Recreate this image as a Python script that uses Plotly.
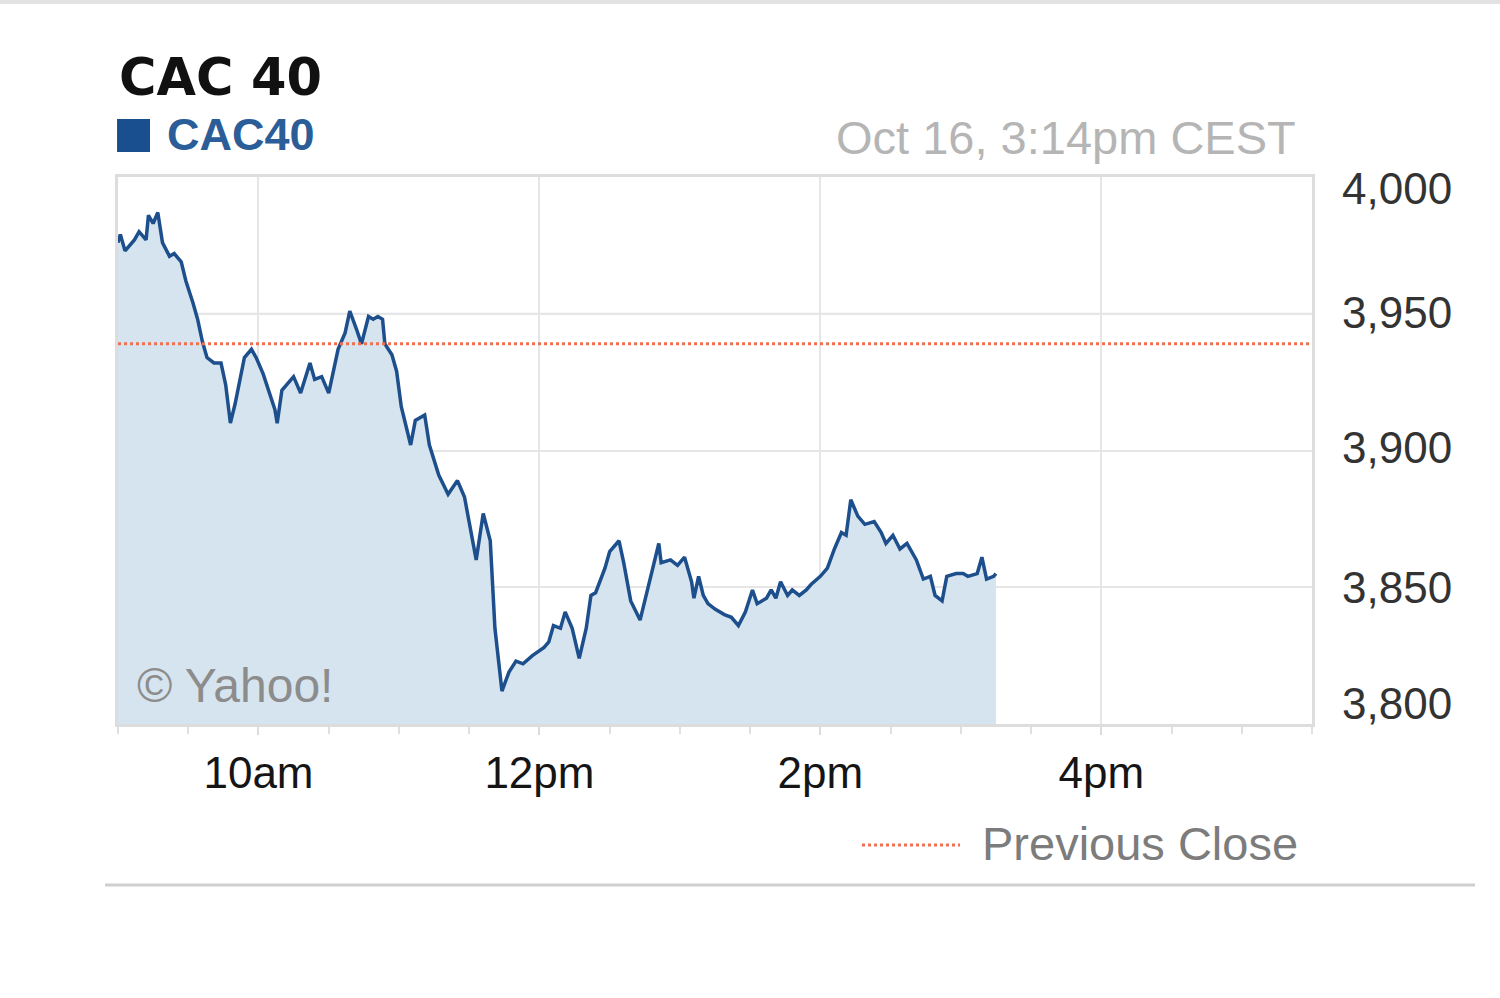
import plotly.graph_objects as go

DAY = "2013-10-16 "

times = ["09:00", "09:01", "09:03", "09:07", "09:09", "09:12", "09:13", "09:15", "09:17", "09:19",
         "09:22", "09:24", "09:27", "09:29", "09:32", "09:34", "09:36", "09:38", "09:41", "09:44",
         "09:46", "09:48", "09:50", "09:52", "09:54", "09:57", "09:59", "10:02", "10:04", "10:07",
         "10:08", "10:10", "10:12", "10:15", "10:18", "10:20", "10:22", "10:24", "10:27", "10:30",
         "10:32", "10:34", "10:37", "10:39", "10:42", "10:44", "10:47", "10:49", "10:51", "10:53",
         "10:54", "10:57", "10:59", "11:01", "11:05", "11:07", "11:11", "11:13", "11:17", "11:21",
         "11:25", "11:28", "11:33", "11:36", "11:39", "11:40", "11:41", "11:44", "11:47", "11:50",
         "11:53", "11:57", "12:02", "12:04", "12:06", "12:09", "12:11", "12:14", "12:17", "12:20",
         "12:22", "12:24", "12:28", "12:30", "12:34", "12:36", "12:39", "12:43", "12:47", "12:51",
         "12:52", "12:56", "12:59", "13:02", "13:05", "13:06", "13:08", "13:10", "13:12", "13:15",
         "13:19", "13:22", "13:25", "13:28", "13:31", "13:33", "13:37", "13:39", "13:41", "13:43",
         "13:46", "13:48", "13:51", "13:54", "13:56", "14:00", "14:03", "14:06", "14:09", "14:11",
         "14:13", "14:16", "14:19", "14:23", "14:26", "14:28", "14:31", "14:34", "14:37", "14:41",
         "14:44", "14:47", "14:49", "14:52", "14:54", "14:58", "15:01", "15:03", "15:07", "15:09",
         "15:11", "15:14", "15:15"]

cac40 = [3976, 3979, 3973, 3977, 3980, 3977, 3986, 3983, 3987, 3976,
         3971, 3972, 3969, 3962, 3954, 3948, 3940, 3934, 3932, 3932,
         3924, 3910, 3917, 3926, 3934, 3937, 3934, 3928, 3923, 3915,
         3910, 3922, 3924, 3927, 3921, 3927, 3932, 3926, 3927, 3921,
         3929, 3937, 3943, 3951, 3944, 3939, 3949, 3948, 3949, 3948,
         3939, 3935, 3929, 3916, 3902, 3911, 3913, 3902, 3891, 3884,
         3889, 3883, 3860, 3877, 3867, 3852, 3835, 3812, 3819, 3823,
         3822, 3825, 3828, 3830, 3836, 3835, 3841, 3835, 3824, 3835,
         3847, 3848, 3857, 3863, 3867, 3859, 3845, 3838, 3852, 3866,
         3859, 3860, 3858, 3861, 3852, 3846, 3854, 3847, 3844, 3842,
         3840, 3839, 3836, 3841, 3849, 3844, 3846, 3849, 3846, 3852,
         3847, 3849, 3847, 3849, 3851, 3854, 3857, 3864, 3870, 3869,
         3882, 3876, 3873, 3874, 3870, 3866, 3869, 3864, 3866, 3860,
         3853, 3854, 3847, 3845, 3854, 3855, 3855, 3854, 3855, 3861,
         3853, 3854, 3855]

previous_close = 3939
session_start, session_end = "09:00", "17:30"

x_tick_times = ["10:00", "12:00", "14:00", "16:00"]
x_tick_labels = ["10am", "12pm", "2pm", "4pm"]
y_tick_values = [4000, 3950, 3900, 3850, 3800]
y_tick_labels = ["4,000", "3,950", "3,900", "3,850", "3,800"]
y_label_shift = [-11, 1, 3, 0, 21]

FONT = "Liberation Sans, Arial, Helvetica, sans-serif"
TITLE_FONT = "DejaVu Sans, Liberation Sans, sans-serif"
LINE_BLUE = "#1d4f8c"
FILL_BLUE = "#d6e4f0"
GRID = "#e6e6e6"

fig = go.Figure()

fig.add_trace(go.Scatter(
    x=[DAY + t for t in times], y=cac40, mode="lines",
    line=dict(color=LINE_BLUE, width=3.5),
    fill="tozeroy", fillcolor=FILL_BLUE, showlegend=False, hoverinfo="skip"))

fig.add_trace(go.Scatter(
    x=[DAY + session_start, DAY + session_end], y=[previous_close, previous_close],
    mode="lines", line=dict(color="#f07050", width=3, dash="dot"),
    showlegend=False, hoverinfo="skip"))

fig.update_xaxes(
    type="date",
    range=[DAY + session_start, DAY + session_end],
    tickvals=[DAY + t for t in x_tick_times], ticktext=x_tick_labels,
    showgrid=True, gridcolor=GRID, gridwidth=2,
    ticks="outside", ticklen=8, tickwidth=2, tickcolor="#dcdcdc",
    minor=dict(dtick=30 * 60 * 1000, ticks="outside", ticklen=7, tickwidth=2,
               tickcolor="#e0e0e0", showgrid=False),
    tickfont=dict(family=FONT, size=44, color="#151515"),
    ticklabelstandoff=0,
    showline=True, linecolor="#dddddd", linewidth=3, mirror=True,
    zeroline=False, fixedrange=True)

fig.update_yaxes(
    range=[3800, 4000], side="right",
    tickvals=y_tick_values, showticklabels=False,
    showgrid=True, gridcolor=GRID, gridwidth=2,
    showline=True, linecolor="#dddddd", linewidth=3, mirror=True,
    zeroline=False, fixedrange=True)

annotations = []
for v, lab, sh in zip(y_tick_values, y_tick_labels, y_label_shift):
    annotations.append(dict(x=1.0235, xref="paper", y=v, yref="y", yshift=sh,
                            text=lab, showarrow=False, xanchor="left", yanchor="middle",
                            font=dict(family=FONT, size=44, color="#333333")))

annotations += [
    dict(x=-0.001, y=1.1828, xref="paper", yref="paper", text="<b>CAC 40</b>", showarrow=False,
         xanchor="left", yanchor="middle", font=dict(family=TITLE_FONT, size=51, color="#111111")),
    dict(x=0.0394, y=1.0768, xref="paper", yref="paper", text="<b>CAC40</b>", showarrow=False,
         xanchor="left", yanchor="middle", font=dict(family=FONT, size=45, color="#2b5e98")),
    dict(x=0.9883, y=1.0731, xref="paper", yref="paper", text="Oct 16, 3:14pm CEST",
         showarrow=False, xanchor="right", yanchor="middle",
         font=dict(family=FONT, size=47, color="#b5b5b5")),
    dict(x=0.0142, y=0.0695, xref="paper", yref="paper", text="© Yahoo!", showarrow=False,
         xanchor="left", yanchor="middle", font=dict(family=FONT, size=48, color="#8c8c8c")),
    dict(x=0.7219, y=-0.2176, xref="paper", yref="paper", text="Previous Close", showarrow=False,
         xanchor="left", yanchor="middle", font=dict(family=FONT, size=47, color="#7c7c7c")),
]

shapes = [
    # 3,950 bluish guide line
    dict(type="line", xref="paper", x0=0, x1=1, yref="y", y0=3950, y1=3950,
         line=dict(color="#d9e6f4", width=2), layer="below"),
    # legend square
    dict(type="rect", xref="paper", yref="paper", x0=-0.0008, x1=0.0268, y0=1.0457, y1=1.1060,
         fillcolor="#1a4f8f", line=dict(width=0)),
    # previous close legend swatch
    dict(type="line", xref="paper", yref="paper", x0=0.6231, x1=0.7052, y0=-0.2212, y1=-0.2212,
         line=dict(color="#f07050", width=3, dash="dot")),
    # separator line
    dict(type="line", xref="paper", yref="paper", x0=-0.0109, x1=1.1365, y0=-0.2943, y1=-0.2943,
         line=dict(color="#cfcfcf", width=3)),
    # top page edge
    dict(type="line", xref="paper", yref="paper", x0=-0.2, x1=1.3, y0=1.32, y1=1.32,
         line=dict(color="#e2e2e2", width=4)),
]

fig.update_layout(
    width=1500, height=998,
    margin=dict(l=118, r=188, t=177, b=274),
    paper_bgcolor="white", plot_bgcolor="white",
    showlegend=False,
    annotations=annotations, shapes=shapes,
    font=dict(family=FONT),
)

fig.write_html("out.html", config={"displayModeBar": False},
               post_script="document.body.style.margin='0';")
